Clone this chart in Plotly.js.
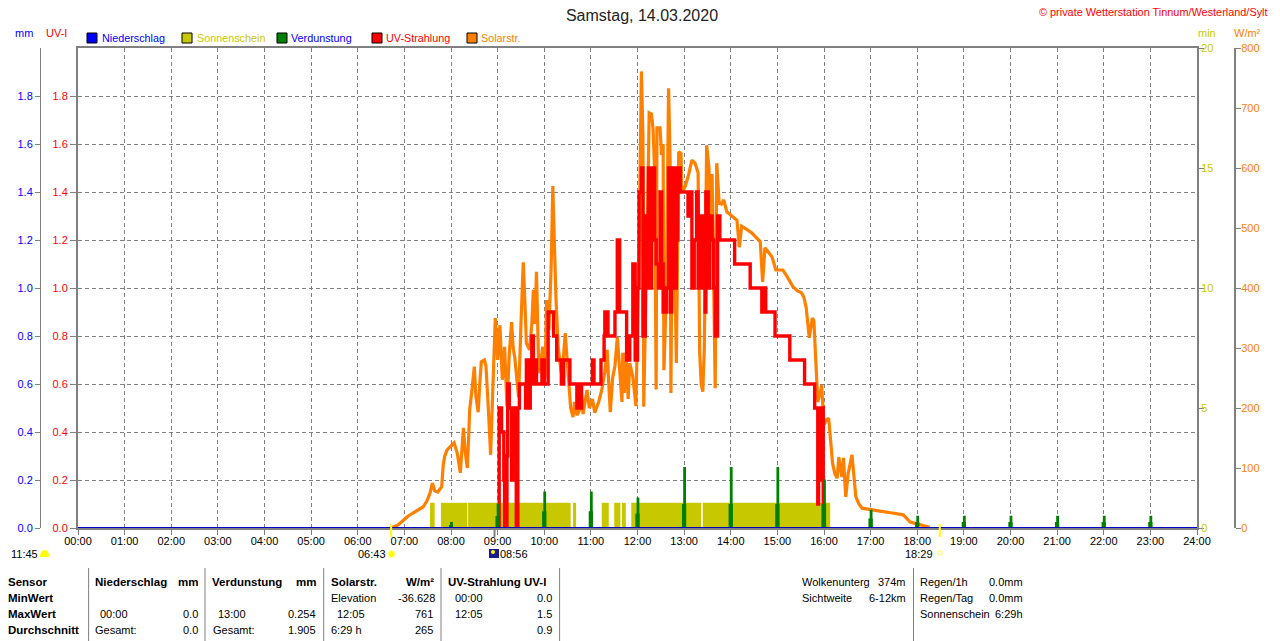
<!DOCTYPE html>
<html><head><meta charset="utf-8">
<script src="https://cdn.plot.ly/plotly-3.0.1.min.js"></script>
<style>html,body{margin:0;padding:0;background:#fff;overflow:hidden}</style>
</head><body><div id="chart" style="width:1280px;height:641px"></div>
<script>
const hourLabels = ["00:00","01:00","02:00","03:00","04:00","05:00","06:00","07:00","08:00","09:00","10:00","11:00","12:00","13:00","14:00","15:00","16:00","17:00","18:00","19:00","20:00","21:00","22:00","23:00","24:00"];
const hourMinutes = [0,60,120,180,240,300,360,420,480,540,600,660,720,780,840,900,960,1020,1080,1140,1200,1260,1320,1380,1440];
const uvTicks = [0,0.2,0.4,0.6,0.8,1.0,1.2,1.4,1.6,1.8];
const minTicks = [0,5,10,15,20];
const solarTicks = [0,100,200,300,400,500,600,700,800];

// solar radiation readings: [minute of day, W/m2]
const solarReadings = [[403,0],[407,2],[412,5],[418,12],[425,20],[431,25],[438,30],[444,35],[449,45],[453,58],[456,75],[459,62],[463,60],[468,69],[470,105],[472,120],[475,130],[479,135],[484,142],[488,125],[490,110],[492,92],[494,130],[496,167],[498,130],[501,100],[503,160],[504,197],[507,230],[510,269],[512,220],[515,193],[517,240],[519,277],[523,280],[525,270],[528,200],[531,122],[533,200],[535,300],[537,350],[540,280],[543,338],[546,247],[549,302],[552,202],[555,290],[558,343],[560,300],[562,285],[565,250],[567,218],[570,340],[573,443],[575,380],[577,308],[581,297],[584,340],[586,397],[588,340],[590,427],[593,258],[596,280],[598,302],[601,250],[603,380],[606,330],[609,440],[611,570],[613,480],[615,385],[618,300],[622,258],[625,290],[627,325],[630,270],[634,200],[637,185],[639,210],[642,188],[645,195],[648,220],[650,190],[655,230],[658,200],[662,215],[665,192],[670,210],[674,230],[678,260],[681,297],[683,240],[685,193],[688,250],[691,270],[694,318],[697,260],[700,210],[701,292],[703,225],[705,292],[708,215],[710,275],[714,252],[718,203],[720,340],[722,465],[725,761],[727,653],[728,202],[731,383],[734,602],[735,692],[738,690],[740,665],[742,596],[744,231],[745,667],[749,667],[751,622],[753,640],[754,263],[757,385],[760,733],[762,611],[763,225],[765,602],[768,447],[770,275],[773,627],[776,624],[777,560],[781,568],[785,585],[790,613],[794,608],[798,592],[800,292],[802,240],[804,227],[806,300],[809,638],[812,600],[814,480],[816,590],[818,400],[820,233],[822,608],[825,542],[828,540],[831,547],[835,527],[842,520],[848,513],[851,468],[854,503],[860,498],[867,492],[878,477],[881,410],[884,467],[893,452],[898,430],[907,430],[913,418],[920,402],[926,395],[931,392],[934,385],[937,368],[941,317],[943,335],[945,350],[947,345],[949,283],[952,210],[955,225],[957,238],[960,172],[963,180],[966,183],[971,108],[974,90],[977,83],[979,118],[983,85],[985,117],[988,52],[991,90],[994,110],[996,122],[1001,52],[1005,40],[1009,33],[1020,30],[1032,28],[1048,25],[1062,22],[1071,10],[1080,7],[1087,5],[1096,1]];

// UV index readings: [minute of day, UV-I]
const uvReadings = [[541,0],[542,0.5],[545,0.4],[548,0.2],[549,0],[552,0.3],[553,0.6],[555,0.5],[558,0.2],[560,0.5],[564,0],[566,0.5],[568,0.6],[575,0.6],[576,0.5],[577,0.7],[580,0.5],[582,0.7],[584,0.8],[586,0.6],[587,0.7],[590,0.6],[597,0.7],[600,0.6],[605,0.9],[612,0.8],[616,0.7],[622,0.6],[625,0.7],[633,0.6],[642,0.5],[644,0.6],[646,0.5],[648,0.6],[662,0.7],[664,0.6],[673,0.7],[677,0.8],[678,0.9],[682,0.8],[691,0.9],[694,1.2],[697,0.9],[702,0.9],[706,0.7],[710,0.8],[714,1.1],[717,0.7],[720,1.0],[722,1.4],[725,1.5],[727,0.8],[730,1.3],[732,1.0],[734,1.5],[737,1.0],[738,1.5],[742,1.2],[744,1.1],[747,1.0],[749,1.4],[751,1.1],[753,0.9],[757,1.0],[760,1.5],[762,0.9],[764,1.4],[766,1.5],[768,1.0],[770,1.2],[772,1.5],[775,1.4],[783,1.4],[785,1.3],[789,1.4],[790,1.0],[793,1.2],[796,1.4],[798,1.0],[800,1.3],[804,1.0],[807,0.9],[808,1.4],[811,1.0],[813,1.3],[816,1.2],[818,1.0],[820,0.8],[823,1.3],[826,1.2],[845,1.1],[865,1.0],[880,0.9],[882,1.0],[885,0.9],[897,0.8],[916,0.7],[935,0.6],[948,0.5],[952,0.1],[953,0.5],[955,0.2],[956,0.5],[959,0]];

// sunshine periods: start and end minute, minutes of sun
const sunStart = [453,467,502,637,674,690,700,712,804];
const sunEnd   = [459,501,634,641,683,698,705,802,968];
const sunLevel = [1.05,1.05,1.05,1.05,1.05,1.05,1.05,1.05,1.05];

// evaporation, mm
const evapHour = [480,540,600,660,720,780,840,900,960,1020,1080,1140,1200,1260,1320,1380];
const evapTop  = [0.025,0.102,0.152,0.152,0.127,0.254,0.254,0.254,0.203,0.076,0.051,0.051,0.051,0.051,0.051,0.051];
const evapLow  = [0.012,0.05,0.07,0.07,0.06,0.1,0.1,0.1,0.1,0.04,0.025,0.025,0.025,0.025,0.025,0.025];

// precipitation, mm
const rainTime = [0,1440];
const rainValue = [0,0];

const sunEvents = [403,1109];
const dawnMark = [536];

const COL = {blue:'#0000ff', olive:'#c8c800', green:'#008000', red:'#ff0000', orange:'#ff8000', grey:'#808080', rain:'#0000c0'};
const W=1280,H=641;
const FONT='"Liberation Sans", Arial, sans-serif';
const px=x=>x/W, py=y=>1-y/H;

const traces=[
 {type:'bar',name:'Sonnenschein',x:sunStart,y:sunLevel,width:sunEnd.map((e,i)=>e-sunStart[i]),offset:0,marker:{color:COL.olive,line:{width:0}},xaxis:'x',yaxis:'y'},
 {type:'scatter',mode:'lines',name:'Solarstr.',x:solarReadings.map(p=>p[0]),y:solarReadings.map(p=>p[1]),line:{color:COL.orange,width:3.2},xaxis:'x',yaxis:'y2'},
 {type:'scatter',mode:'lines',name:'UV-Strahlung',x:uvReadings.map(p=>p[0]),y:uvReadings.map(p=>p[1]),line:{color:COL.red,width:3.4,shape:'hv'},xaxis:'x',yaxis:'y3'},
 {type:'bar',name:'Verdunstung',x:evapHour,y:evapTop,width:3.6,offset:-1.2,marker:{color:COL.green,line:{width:0}},xaxis:'x',yaxis:'y4'},
 {type:'bar',name:'Verdunstung',x:evapHour,y:evapLow,width:5.5,offset:-2.8,marker:{color:COL.green,line:{width:0}},xaxis:'x',yaxis:'y4'},
 {type:'scatter',mode:'lines',name:'Niederschlag',x:rainTime,y:rainValue,line:{color:COL.rain,width:2},cliponaxis:false,xaxis:'x',yaxis:'y4'}
];

const tf=(c)=>({family:FONT,size:11,color:c});
const domY=[1-528/H,1-48/H];
const layout={
 width:W,height:H,margin:{l:0,r:0,t:0,b:0},paper_bgcolor:'#fff',plot_bgcolor:'#fff',showlegend:false,barmode:'overlay',
 title:{text:'Samstag, 14.03.2020',x:642/W,xanchor:'center',y:py(15),yanchor:'middle',font:{family:FONT,size:16,color:'#222'}},
 xaxis:{domain:[78/W,1197/W],range:[0,1440],tickmode:'array',tickvals:hourMinutes,ticktext:hourLabels,tickfont:tf('#000'),
   ticks:'outside',ticklen:5,tickcolor:COL.grey,ticklabelstandoff:-3,showgrid:true,gridcolor:COL.grey,griddash:'4px,3px',gridwidth:1,
   showline:true,linecolor:COL.grey,linewidth:2,mirror:true,zeroline:false,automargin:false,layer:'below traces'},
 yaxis:{domain:domY,range:[0,20],side:'right',anchor:'x',tickmode:'array',tickvals:minTicks,tickfont:tf(COL.olive),ticklabelstandoff:-5,
   ticks:'outside',ticklen:5,tickcolor:COL.grey,showgrid:false,showline:true,linecolor:COL.grey,linewidth:2,zeroline:false,automargin:false},
 yaxis2:{domain:domY,range:[0,800],overlaying:'y',side:'right',anchor:'free',position:1235/W,tickmode:'array',tickvals:solarTicks,tickfont:tf(COL.orange),ticklabelstandoff:-2,
   ticks:'outside',ticklen:5,tickcolor:COL.grey,showgrid:false,showline:true,linecolor:COL.grey,linewidth:2,zeroline:false,automargin:false},
 yaxis3:{domain:domY,range:[0,2],overlaying:'y',side:'left',anchor:'x',tickmode:'array',tickvals:uvTicks,tickformat:'.1f',tickfont:tf(COL.red),
   ticks:'outside',ticklen:6,tickcolor:COL.grey,showgrid:true,gridcolor:COL.grey,griddash:'4px,3px',gridwidth:1,showline:true,linecolor:COL.grey,linewidth:2,zeroline:false,automargin:false},
 yaxis4:{domain:domY,range:[0,2],overlaying:'y',side:'left',anchor:'free',position:40/W,tickmode:'array',tickvals:uvTicks,tickformat:'.1f',tickfont:tf(COL.blue),
   ticks:'outside',ticklen:5,tickcolor:COL.grey,showgrid:false,showline:true,linecolor:COL.grey,linewidth:1,zeroline:false,automargin:false},
 shapes:[],annotations:[]
};

function T(text,x,y,o={}){
  const a=o.a||'left';
  layout.annotations.push({text,xref:'paper',yref:'paper',x:px(a==='left'?x-1:x+1),y:py(y),xanchor:a,yanchor:'middle',showarrow:false,borderpad:0,
    font:{family:FONT,size:o.s||11,color:o.c||'#000'}});
}
function B(text,x,y,o={}){T('<b>'+text+'</b>',x,y,Object.assign({s:11.5},o));}
function R(x0,y0,x1,y1,fill,line,lw){layout.shapes.push({type:'rect',xref:'paper',yref:'paper',x0:px(x0),x1:px(x1),y0:py(y0),y1:py(y1),fillcolor:fill,line:{color:line||fill,width:lw===undefined?0:lw},layer:'above'});}
function L(x,y0,y1,c,w){layout.shapes.push({type:'line',xref:'paper',yref:'paper',x0:px(x),x1:px(x),y0:py(y0),y1:py(y1),line:{color:c,width:w||1},layer:'above'});}
function C(cx,cy,r,fill,line){layout.shapes.push({type:'circle',xref:'paper',yref:'paper',x0:px(cx-r),x1:px(cx+r),y0:py(cy-r),y1:py(cy+r),fillcolor:fill,line:{color:line||fill,width:line?1:0},layer:'above'});}

// top texts
T('© private Wetterstation Tinnum/Westerland/Sylt',1268,12,{a:'right',c:COL.red,s:10.9});
T('mm',15,33,{c:COL.blue}); T('UV-I',46,33,{c:COL.red});
T('min',1198,33,{c:COL.olive}); T('W/m²',1234,33,{c:COL.orange});
// legend
[[87,101.5,'Niederschlag',COL.blue],[182,196.5,'Sonnenschein',COL.olive],[277,291,'Verdunstung',COL.green,COL.blue],[372,386,'UV-Strahlung',COL.red],[467,481,'Solarstr.',COL.orange]].forEach(e=>{
  R(e[0],33,e[0]+10,43,e[3],'#000',1); T(e[2],e[1],38,{c:e[4]||e[3],s:10.8});
});
// sun marks
sunEvents.forEach(t=>layout.shapes.push({type:'line',xref:'x',yref:'paper',x0:t,x1:t,y0:py(524),y1:py(537),line:{color:'#ffff00',width:2},layer:'above'}));
dawnMark.forEach(t=>layout.shapes.push({type:'line',xref:'x',yref:'paper',x0:t,x1:t,y0:py(528),y1:py(537),line:{color:COL.grey,width:2},layer:'above'}));
T('11:45',11,554);
layout.shapes.push({type:'path',xref:'paper',yref:'paper',path:`M ${px(40)} ${py(557)} Q ${px(40)} ${py(550)} ${px(45)} ${py(550)} Q ${px(49)} ${py(550)} ${px(49)} ${py(557)} Z`,fillcolor:'#ffff00',line:{width:0},layer:'above'});
T('06:43',358,554); C(391.5,554,3.5,'#ffff00','#ffffa0');
R(489,549,499,558,'#1a1a8c'); C(493,552,2,'#ffff00'); T('08:56',500,554);
T('18:29',933,554,{a:'right'}); R(938,551,942,555,'#ffffff','#ffff60',1);

// table
[88.6,205,323.7,441,559.6,913.5].forEach(x=>L(x,568,641,COL.grey,1));
const rows=[582,598,614,630];
['Sensor','MinWert','MaxWert','Durchschnitt'].forEach((t,i)=>B(t,8,rows[i]));
B('Niederschlag',94.5,rows[0]); B('mm',198,rows[0],{a:'right'});
B('Verdunstung',212,rows[0]); B('mm',316,rows[0],{a:'right'});
B('Solarstr.',330.6,rows[0]); B('W/m²',434,rows[0],{a:'right'});
B('UV-Strahlung UV-I',448,rows[0]);
T('Elevation',330.6,rows[1]); T('-36.628',434.5,rows[1],{a:'right'}); T('00:00',455,rows[1]); T('0.0',552,rows[1],{a:'right'});
T('00:00',100,rows[2]); T('0.0',198,rows[2],{a:'right'}); T('13:00',218,rows[2]); T('0.254',316,rows[2],{a:'right'});
T('12:05',337,rows[2]); T('761',433,rows[2],{a:'right'}); T('12:05',455,rows[2]); T('1.5',552,rows[2],{a:'right'});
T('Gesamt:',94.5,rows[3]); T('0.0',198,rows[3],{a:'right'}); T('Gesamt:',212.5,rows[3]); T('1.905',316,rows[3],{a:'right'});
T('6:29 h',330.6,rows[3]); T('265',433,rows[3],{a:'right'}); T('0.9',552,rows[3],{a:'right'});
T('Wolkenunterg',802,rows[0]); T('374m',906,rows[0],{a:'right'}); T('Sichtweite',802,rows[1]); T('6-12km',906,rows[1],{a:'right'});
T('Regen/1h',920.4,rows[0]); T('0.0mm',1022.5,rows[0],{a:'right'});
T('Regen/Tag',920.4,rows[1]); T('0.0mm',1022.5,rows[1],{a:'right'});
T('Sonnenschein',920.4,rows[2]); T('6:29h',1022.5,rows[2],{a:'right'});

Plotly.newPlot('chart',traces,layout,{staticPlot:true,displayModeBar:false});
</script>
</body></html>
